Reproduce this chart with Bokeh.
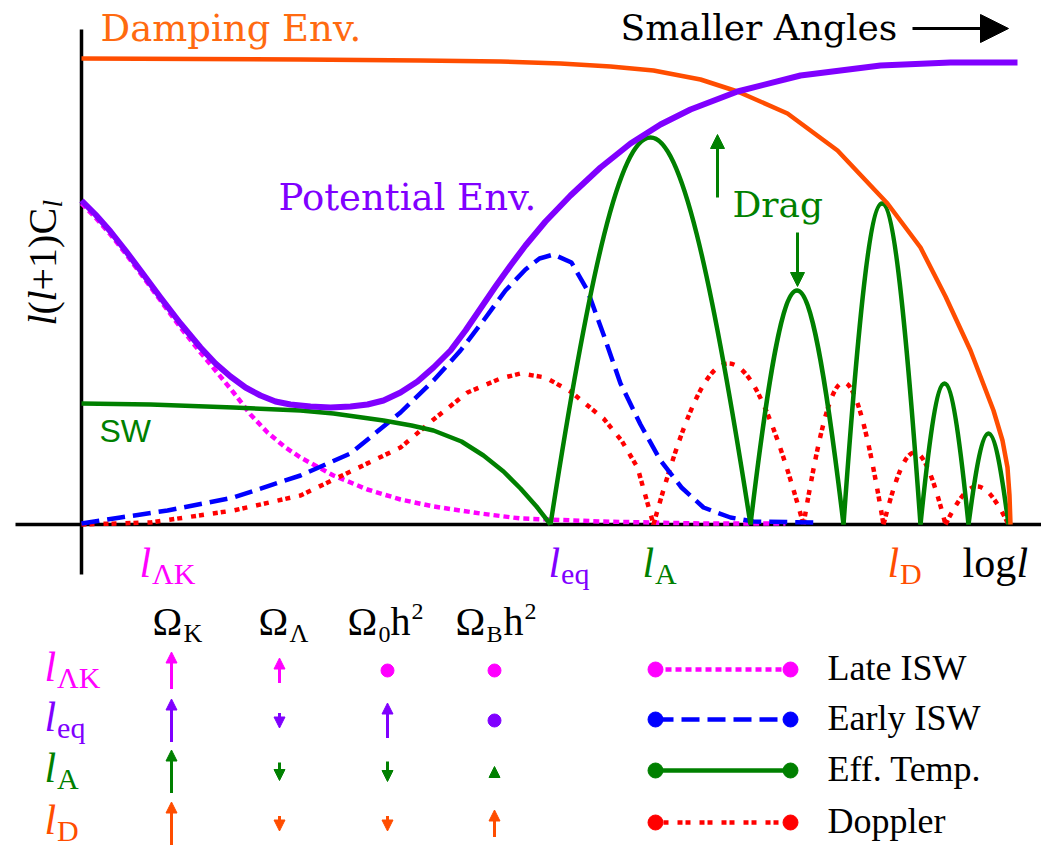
from bokeh.plotting import figure
from bokeh.models import Range1d, Arrow, NormalHead, ColumnDataSource
from bokeh.core.properties import value
from bokeh.embed import file_html
from bokeh.resources import INLINE

# ---------------- data (schematic units: x = log l from origin, y = l(l+1)C_l) ----------------
damp_x = [0, 219, 339, 419, 479, 529, 572, 619, 656, 706, 756, 806, 839, 864, 889, 912, 921, 926,
          928, 929]
damp_y = [466, 465, 464, 463, 461, 458, 454, 445, 433, 411, 374, 321, 277, 228, 174, 114, 84, 57,
          29, 0]

pot_x = [0, 14, 29, 44, 59, 79, 99, 119, 134, 149, 164, 179, 194, 209, 229, 249, 269, 286, 302,
         319, 336, 352, 369, 384, 399, 414, 429, 444, 464, 489, 519, 549, 579, 609, 656, 719, 799,
         869, 936]
pot_y = [324, 310, 293, 274, 254, 227, 201, 177, 161, 148, 137, 129, 123, 120, 118, 117, 118, 120,
         124, 132, 143, 157, 174, 194, 216, 238, 259, 279, 303, 329, 357, 381, 400, 415, 433, 449,
         459, 462, 462]

late_x = [0, 14, 29, 44, 59, 79, 99, 119, 134, 152, 169, 186, 204, 219, 252, 286, 319, 352, 399,
          439, 519, 619, 704]
late_y = [321, 307, 290, 271, 251, 224, 197, 172, 154, 132, 110, 92, 77, 67, 49, 35, 25, 18, 11,
          6, 3, 1, 1]

early_x = [0, 39, 86, 152, 219, 269, 319, 352, 379, 402, 424, 444, 458, 472, 490, 506, 522, 539,
           559, 579, 600, 622, 649, 672, 732]
early_y = [1, 7, 14, 27, 49, 71, 112, 144, 174, 204, 234, 255, 266, 270, 262, 234, 190, 141,
           100, 64, 37, 17, 7, 3, 2]

dop_x = [0, 69, 152, 219, 269, 319, 352, 386, 419, 439, 464, 489, 522, 540, 556, 572]
dop_y = [0, 2, 14, 29, 53, 77, 105, 132, 146, 151, 147, 133, 106, 84, 57, 0]
dop_zeros = [572, 722, 802, 864, 927]          # nodes of the later Doppler arches
dop_peaks = [161, 142, 72, 38]

sw_x = [0, 69, 152, 219, 252, 302, 330, 352, 380, 402, 422, 439, 455, 469]
sw_y = [121, 120, 117, 114, 111, 104, 99, 94, 83, 69, 53, 36, 18, 0]
eff_zeros = [469, 669, 762, 839, 887, 927]      # nodes of the acoustic peaks
eff_peaks = [387, 234, 321, 141, 91]

# table of parameter dependences (signed shift; 0 = no change)
tbl_rows = ["ΛK", "eq", "A", "D"]
tbl_cols = ["K", "Λ", "0", "B"]
tbl_shift = [[3.7, 2.5, 0, 0],
             [4.3, -1.5, 3.5, 0],
             [4.3, -1.8, -2.0, 1.0],
             [4.3, -1.5, -1.5, 2.7]]

legend_labels = ["Late ISW", "Early ISW", "Eff. Temp.", "Doppler"]

# ---------------- styling ----------------
MAG, PUR, GRN, RED, BLU = "#FF00FF", "#8000FF", "#008000", "#FF0000", "#0000FF"
ORA, ORA_T = "#FF4D00", "#FF6A10"
SERIF = "Liberation Serif"
BIG = "DejaVu Serif"
K_BASE = 0.35   # baseline correction (fraction of font size)

def X(px):
    return px - 81

def Y(py):
    return 524 - py

p = figure(width=1041, height=845, x_range=Range1d(-81, 960), y_range=Range1d(-321, 524),
           output_backend="svg", toolbar_location=None, min_border=0,
           x_axis_location=None, y_axis_location=None)
p.grid.visible = False
p.outline_line_color = None
p.background_fill_color = "white"
p.border_fill_color = "white"

def txt(px, py, s, color, size, font=SERIF, style="normal", angle=0.0, align="left"):
    if angle == 0.0:
        py = py - K_BASE * size
    else:
        px = px - K_BASE * size
    p.text(x=[X(px)], y=[Y(py)], text=[s], text_color=color, text_font=value(font),
           text_font_size=f"{size}px", text_font_style=style, angle=angle,
           text_align=align, text_baseline="alphabetic")

def lsub(px, py, sub, color, size=42, subsize=30):
    txt(px, py, "l", color, size, style="italic")
    txt(px + 0.3 * size, py + 6, sub, color, subsize)

# axes
p.line(x=[X(81), X(81)], y=[Y(29), Y(574)], line_color="black", line_width=3.5)
p.line(x=[X(15), X(1041)], y=[0, 0], line_color="black", line_width=3.5)

def arches(zeros, peaks, color, width, dash="solid", a=0.4):
    x0 = zeros[:-1]
    x1 = zeros[1:]
    w = [b - c for b, c in zip(x1, x0)]
    p.bezier(x0=x0, y0=[0] * len(x0), x1=x1, y1=[0] * len(x1),
             cx0=[s + a * ww for s, ww in zip(x0, w)], cy0=[4.0 / 3.0 * h for h in peaks],
             cx1=[e - a * ww for e, ww in zip(x1, w)], cy1=[4.0 / 3.0 * h for h in peaks],
             line_color=color, line_width=width, line_dash=dash)

# curves
p.line(late_x, late_y, line_color=MAG, line_width=4.5, line_dash="6 4")
p.line(dop_x, dop_y, line_color=RED, line_width=4.5, line_dash="5 3 5 9", line_join="round")
arches(dop_zeros, dop_peaks, RED, 4.5, dash="5 3 5 9")
p.line(early_x, early_y, line_color=BLU, line_width=4.5, line_dash="18 8", line_join="round")
p.line(sw_x, sw_y, line_color=GRN, line_width=4.5, line_join="round")
arches(eff_zeros, eff_peaks, GRN, 4.5)
p.line(damp_x, damp_y, line_color=ORA, line_width=4.5, line_join="round")
p.line(pot_x, pot_y, line_color=PUR, line_width=6, line_join="round")

# y label (rotated, pieces)
ang = 1.5708
txt(56, 325, "l", "black", 40, style="italic", angle=ang)
txt(56, 314, "(", "black", 40, angle=ang)
txt(56, 301, "l", "black", 40, style="italic", angle=ang)
txt(56, 290, "+1)C", "black", 40, angle=ang)
txt(62, 207, "l", "black", 27, style="italic", angle=ang)

# annotations in the plot
txt(100, 41, "Damping Env.", ORA_T, 37, font=BIG)
txt(620, 40, "Smaller Angles", "black", 36, font=BIG)
p.add_layout(Arrow(end=NormalHead(size=28, fill_color="black", line_color="black"),
                   x_start=X(912), y_start=Y(28), x_end=X(1008), y_end=Y(28),
                   line_color="black", line_width=3))
txt(278, 210, "Potential Env.", PUR, 37, font=BIG)
txt(732, 217, "Drag", GRN, 36, font=BIG)
p.add_layout(Arrow(end=NormalHead(size=14, fill_color=GRN, line_color=GRN),
                   x_start=X(717), y_start=Y(197), x_end=X(717), y_end=Y(134),
                   line_color=GRN, line_width=3))
p.add_layout(Arrow(end=NormalHead(size=14, fill_color=GRN, line_color=GRN),
                   x_start=X(797), y_start=Y(232), x_end=X(797), y_end=Y(286),
                   line_color=GRN, line_width=3))

# x tick labels
row_colors = [MAG, PUR, GRN, ORA]
lsub(139, 577, "ΛK", MAG)
lsub(548, 577, "eq", PUR)
lsub(642, 577, "A", GRN)
lsub(887, 577, "D", ORA)
txt(962, 577, "log", "black", 42)
txt(1016, 577, "l", "black", 42, style="italic")

# table header
col_x = [171, 279, 387, 494]
txt(152, 635, "Ω", "black", 40)
txt(183, 642, "K", "black", 26)
txt(258, 635, "Ω", "black", 40)
txt(289, 642, "Λ", "black", 26)
txt(347, 635, "Ω", "black", 40)
txt(378, 642, "0", "black", 24)
txt(390, 635, "h", "black", 40)
txt(411, 619, "2", "black", 24)
txt(455, 635, "Ω", "black", 40)
txt(486, 642, "B", "black", 24)
txt(503, 635, "h", "black", 40)
txt(524, 619, "2", "black", 24)

# table rows
row_y = [670, 720, 771, 823]
for r, (sub, color) in enumerate(zip(tbl_rows, row_colors)):
    lsub(44, row_y[r] + 11, sub, color)
    xs0, ys0, xs1, ys1, dx, dy = [], [], [], [], [], []
    for c, s in enumerate(tbl_shift[r]):
        if s == 0:
            dx.append(X(col_x[c]))
            dy.append(Y(row_y[r]))
        else:
            half = 5.0 * s
            xs0.append(X(col_x[c]))
            xs1.append(X(col_x[c]))
            ys0.append(Y(row_y[r]) - half)
            ys1.append(Y(row_y[r]) + half)
    if xs0:
        src = ColumnDataSource(dict(x0=xs0, y0=ys0, x1=xs1, y1=ys1))
        p.add_layout(Arrow(source=src, x_start="x0", y_start="y0", x_end="x1", y_end="y1",
                           line_color=color, line_width=3,
                           end=NormalHead(size=11, fill_color=color, line_color=color)))
    if dx:
        p.scatter(dx, dy, size=13, color=color)

# legend
leg_colors = [MAG, BLU, GRN, RED]
leg_dash = ["6 4", "18 8", "solid", "5 3 5 9"]
for r, (lab, color, dash) in enumerate(zip(legend_labels, leg_colors, leg_dash)):
    yy = Y(row_y[r] - 1)
    p.line([X(655), X(790)], [yy, yy], line_color=color, line_width=4.5, line_dash=dash)
    p.scatter([X(655), X(790)], [yy, yy], size=15, color=color)
    txt(827, row_y[r] + 10, lab, "black", 36)

# SW label (sans)
txt(99, 442, "SW", GRN, 32, font="Liberation Sans")

open("out.html", "w").write(file_html(p, INLINE))
